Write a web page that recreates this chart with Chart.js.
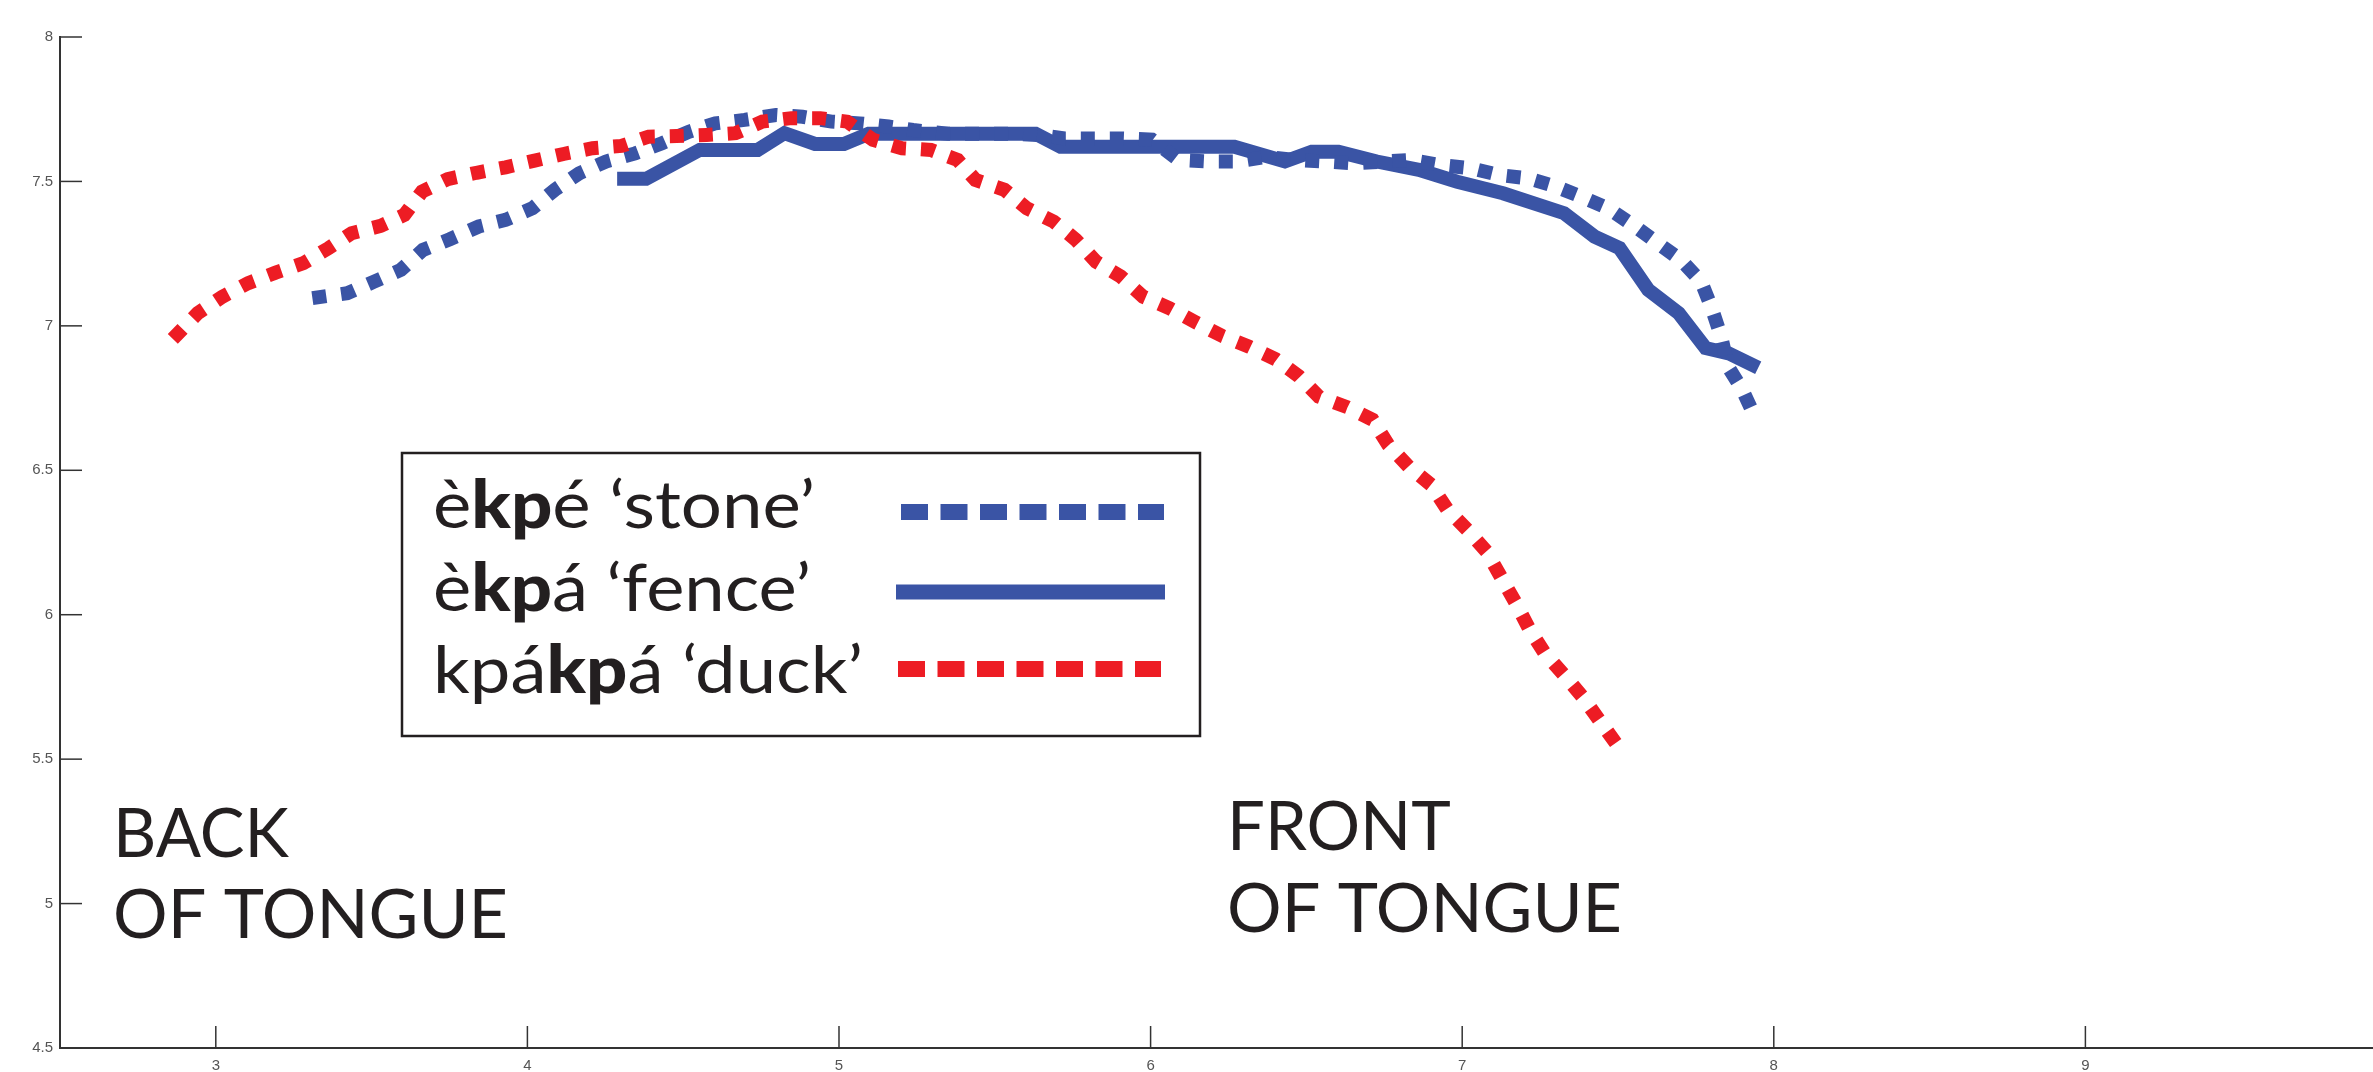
<!DOCTYPE html>
<html>
<head>
<meta charset="utf-8">
<script src="https://cdn.jsdelivr.net/npm/chart.js@4.4.1/dist/chart.umd.min.js"></script>
<style>
  html, body { margin: 0; padding: 0; background: #ffffff; }
  #wrap { width: 2373px; height: 1072px; position: relative; }
</style>
</head>
<body>
<div id="wrap"><canvas id="c" width="2373" height="1072"></canvas></div>
<script>
// Tongue contour traces (horizontal position vs. height)
const xTicks = [3, 4, 5, 6, 7, 8, 9];
const yTicks = [4.5, 5, 5.5, 6, 6.5, 7, 7.5, 8];

const stoneX = [3.31, 3.422, 3.508, 3.594, 3.665, 3.751, 3.844, 3.930, 4.016, 4.088, 4.166, 4.252, 4.346, 4.432, 4.518, 4.603, 4.697, 4.797, 4.883, 4.976, 5.066, 5.159, 5.238, 5.35, 5.45, 5.55, 5.65, 5.724, 5.817, 5.910, 6.004, 6.090, 6.183, 6.276, 6.37, 6.46, 6.560, 6.652, 6.836, 6.928, 7.026, 7.119, 7.211, 7.296, 7.382, 7.468, 7.548, 7.628, 7.702, 7.767, 7.801, 7.831, 7.853, 7.899, 7.945];
const stoneY = [7.096, 7.113, 7.153, 7.194, 7.263, 7.300, 7.344, 7.367, 7.407, 7.471, 7.528, 7.569, 7.597, 7.632, 7.672, 7.701, 7.713, 7.730, 7.724, 7.707, 7.701, 7.690, 7.678, 7.665, 7.665, 7.665, 7.660, 7.649, 7.649, 7.649, 7.645, 7.574, 7.569, 7.569, 7.585, 7.575, 7.569, 7.563, 7.574, 7.557, 7.546, 7.522, 7.511, 7.484, 7.447, 7.407, 7.349, 7.286, 7.228, 7.153, 7.061, 6.963, 6.859, 6.779, 6.672];

const fenceX = [4.288, 4.381, 4.553, 4.739, 4.825, 4.923, 5.016, 5.095, 5.631, 5.711, 6.269, 6.431, 6.517, 6.603, 6.726, 6.861, 6.984, 7.131, 7.327, 7.425, 7.505, 7.597, 7.695, 7.781, 7.855, 7.95];
const fenceY = [7.509, 7.509, 7.609, 7.609, 7.667, 7.630, 7.630, 7.665, 7.665, 7.620, 7.620, 7.569, 7.603, 7.603, 7.569, 7.540, 7.499, 7.459, 7.390, 7.309, 7.269, 7.125, 7.044, 6.923, 6.905, 6.855];

const duckX = [2.862, 2.942, 3.021, 3.104, 3.192, 3.281, 3.362, 3.436, 3.529, 3.605, 3.662, 3.744, 3.837, 3.930, 4.023, 4.116, 4.209, 4.302, 4.389, 4.479, 4.575, 4.668, 4.754, 4.847, 4.940, 5.026, 5.109, 5.202, 5.295, 5.381, 5.438, 5.531, 5.603, 5.689, 5.760, 5.825, 5.904, 5.976, 6.061, 6.145, 6.230, 6.316, 6.402, 6.476, 6.540, 6.632, 6.712, 6.763, 6.828, 6.900, 6.951, 7.016, 7.078, 7.123, 7.172, 7.215, 7.264, 7.329, 7.389, 7.445, 7.51];
const duckY = [6.955, 7.044, 7.101, 7.148, 7.184, 7.217, 7.269, 7.321, 7.346, 7.384, 7.465, 7.508, 7.530, 7.549, 7.572, 7.595, 7.615, 7.623, 7.655, 7.657, 7.661, 7.667, 7.707, 7.719, 7.719, 7.707, 7.644, 7.615, 7.609, 7.574, 7.505, 7.471, 7.407, 7.361, 7.298, 7.222, 7.171, 7.101, 7.061, 7.012, 6.965, 6.928, 6.884, 6.825, 6.755, 6.718, 6.675, 6.588, 6.513, 6.450, 6.366, 6.294, 6.219, 6.133, 6.040, 5.951, 5.868, 5.789, 5.712, 5.627, 5.53];

// Legend entries; **...** marks the bold part of each word
const seriesLabels = ['è**kp**é ‘stone’', 'è**kp**á ‘fence’', 'kpá**kp**á ‘duck’'];
const regionLabels = [['BACK', 'OF TONGUE'], ['FRONT', 'OF TONGUE']];

const BLUE = '#3a54a5';
const RED = '#ed1c24';
const INK = '#231f20';
const AXIS = '#333333';
const FONT = 'Lato, "Open Sans", "DejaVu Sans", sans-serif';
const W_REGULAR = 400;
const W_BOLD = 900;

const toPoints = (xs, ys) => xs.map((x, i) => ({ x, y: ys[i] }));

// Layout of the overlay elements (canvas pixels)
const legendBox = { left: 402, top: 453, right: 1200, bottom: 736 };
const legendRows = [
  { baseline: 528, width: 382, sampleY: 512, sampleL: 901, sampleR: 1164, lw: 16 },
  { baseline: 611, width: 378, sampleY: 592, sampleL: 896, sampleR: 1165, lw: 15 },
  { baseline: 693, width: 430, sampleY: 669, sampleL: 898, sampleR: 1161, lw: 16 }
];
const legendTextLeft = 433;
const legendFontSize = 66;
const regionPlacement = [
  { left: 113, baselines: [857, 938] },
  { left: 1227, baselines: [850, 932] }
];
const regionFontSize = 67;
const regionWidth = 395;

function parseRuns(label) {
  return label.split('**').map((t, i) => ({ t, bold: i % 2 === 1 })).filter(r => r.t.length);
}

function drawFitted(ctx, runs, x, baseline, size, targetW, color) {
  let total = 0;
  runs.forEach(r => {
    ctx.font = `${r.bold ? W_BOLD : W_REGULAR} ${size}px ${FONT}`;
    r.w = ctx.measureText(r.t).width;
    total += r.w;
  });
  const s = targetW ? targetW / total : 1;
  ctx.save();
  ctx.translate(x, baseline);
  ctx.scale(s, 1);
  ctx.fillStyle = color;
  ctx.textBaseline = 'alphabetic';
  ctx.textAlign = 'left';
  let cx = 0;
  runs.forEach(r => {
    ctx.font = `${r.bold ? W_BOLD : W_REGULAR} ${size}px ${FONT}`;
    ctx.fillText(r.t, cx, 0);
    cx += r.w;
  });
  ctx.restore();
}

const overlay = {
  id: 'overlay',
  beforeDatasetsDraw(chart) {
    const { ctx, chartArea, scales: { x, y } } = chart;
    ctx.save();
    ctx.strokeStyle = AXIS;
    ctx.lineWidth = 1.5;
    y.ticks.forEach(t => {
      const py = y.getPixelForValue(t.value);
      ctx.beginPath();
      ctx.moveTo(chartArea.left, py);
      ctx.lineTo(chartArea.left + 22, py);
      ctx.stroke();
    });
    x.ticks.forEach(t => {
      const px = x.getPixelForValue(t.value);
      ctx.beginPath();
      ctx.moveTo(px, chartArea.bottom);
      ctx.lineTo(px, chartArea.bottom - 22);
      ctx.stroke();
    });
    ctx.restore();
  },
  afterDraw(chart) {
    const { ctx } = chart;
    ctx.save();
    // region captions
    regionLabels.forEach((lines, i) => {
      const p = regionPlacement[i];
      lines.forEach((line, j) => {
        const w = j === 1 ? regionWidth : null;
        drawFitted(ctx, [{ t: line, bold: false }], p.left, p.baselines[j], regionFontSize, w, INK);
      });
    });
    // legend box
    const b = legendBox;
    ctx.fillStyle = '#ffffff';
    ctx.fillRect(b.left, b.top, b.right - b.left, b.bottom - b.top);
    ctx.strokeStyle = INK;
    ctx.lineWidth = 2.5;
    ctx.strokeRect(b.left, b.top, b.right - b.left, b.bottom - b.top);
    // legend rows, in the order of the series labels
    seriesLabels.forEach((label, i) => {
      const row = legendRows[i];
      drawFitted(ctx, parseRuns(label), legendTextLeft, row.baseline, legendFontSize, row.width, INK);
      const ds = chart.data.datasets.find(d => d.label === label);
      ctx.save();
      ctx.strokeStyle = ds.borderColor;
      ctx.lineWidth = row.lw;
      ctx.lineCap = 'butt';
      ctx.setLineDash(ds.borderDash && ds.borderDash.length ? [27, 12.5] : []);
      ctx.beginPath();
      ctx.moveTo(row.sampleL, row.sampleY);
      ctx.lineTo(row.sampleR, row.sampleY);
      ctx.stroke();
      ctx.restore();
    });
    ctx.restore();
  }
};

function build() {
  const ctx = document.getElementById('c').getContext('2d');
  new Chart(ctx, {
    type: 'line',
    data: {
      datasets: [
        {
          label: seriesLabels[2], data: toPoints(duckX, duckY), order: 0,
          borderColor: RED, borderWidth: 14, borderDash: [14, 15],
          borderCapStyle: 'butt', borderJoinStyle: 'miter',
          pointRadius: 0, tension: 0, fill: false
        },
        {
          label: seriesLabels[0], data: toPoints(stoneX, stoneY), order: 1,
          borderColor: BLUE, borderWidth: 14, borderDash: [14, 15],
          borderCapStyle: 'butt', borderJoinStyle: 'miter',
          pointRadius: 0, tension: 0, fill: false
        },
        {
          label: seriesLabels[1], data: toPoints(fenceX, fenceY), order: 2,
          borderColor: BLUE, borderWidth: 14, borderDash: [],
          borderCapStyle: 'butt', borderJoinStyle: 'miter',
          pointRadius: 0, tension: 0, fill: false
        }
      ]
    },
    options: {
      responsive: false,
      animation: false,
      devicePixelRatio: 1,
      layout: { padding: { top: 37, left: 0, right: 0, bottom: 0 } },
      plugins: { legend: { display: false }, tooltip: { enabled: false } },
      scales: {
        x: {
          type: 'linear',
          min: 2.5,
          max: 9.923,
          afterBuildTicks: s => { s.ticks = xTicks.map(v => ({ value: v })); },
          afterFit: s => { s.height = 24; },
          grid: { display: false, drawTicks: false },
          border: { display: true, color: AXIS, width: 2 },
          ticks: {
            padding: 9,
            color: '#555555',
            font: { family: '"Liberation Sans", Arial, sans-serif', size: 15 },
            callback: v => String(v),
            maxRotation: 0
          }
        },
        y: {
          type: 'linear',
          min: 4.5,
          max: 8,
          afterBuildTicks: s => { s.ticks = yTicks.map(v => ({ value: v })); },
          afterFit: s => { s.width = 60; },
          grid: { display: false, drawTicks: false },
          border: { display: true, color: AXIS, width: 2 },
          ticks: {
            padding: 7,
            color: '#555555',
            font: { family: '"Liberation Sans", Arial, sans-serif', size: 15 },
            callback: v => String(v)
          }
        }
      }
    },
    plugins: [overlay]
  });
}

const fontLoads = document.fonts ? Promise.all([
  document.fonts.load(`${W_REGULAR} 66px Lato`),
  document.fonts.load(`${W_BOLD} 66px Lato`)
]).catch(() => null) : Promise.resolve();
fontLoads.then(build, build);
</script>
</body>
</html>
